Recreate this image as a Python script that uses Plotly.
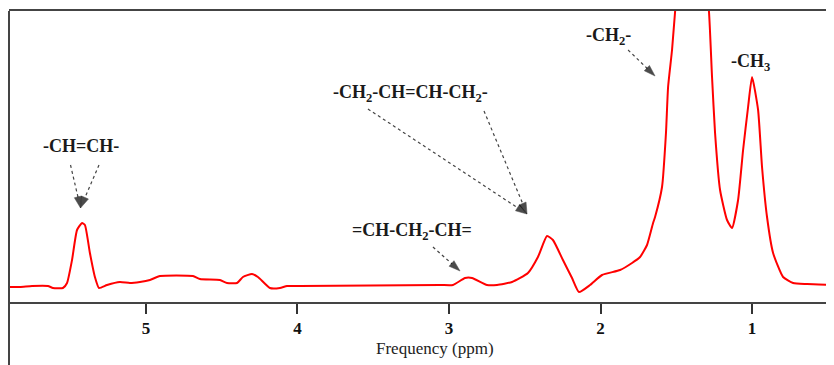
import plotly.graph_objects as go

# Spectrum (chemical shift in ppm, intensity in arbitrary units)
ppm = [5.911, 5.832, 5.752, 5.647, 5.614, 5.548, 5.521, 5.488, 5.455, 5.422,
       5.403, 5.370, 5.337, 5.310, 5.257, 5.172, 5.106, 5.040, 4.974, 4.908,
       4.690, 4.644, 4.512, 4.465, 4.399, 4.360, 4.300, 4.261, 4.182, 4.116,
       4.069, 3.983, 3.059, 2.974, 2.894, 2.848, 2.749, 2.683, 2.584, 2.479,
       2.413, 2.353, 2.314, 2.248, 2.188, 2.142, 2.069, 1.990, 1.871, 1.792,
       1.739, 1.693, 1.653, 1.640, 1.594, 1.568, 1.554, 1.528, 1.508, 1.462,
       1.396, 1.330, 1.284, 1.264, 1.244, 1.211, 1.165, 1.132, 1.092, 1.059,
       1.026, 1.000, 0.960, 0.934, 0.901, 0.861, 0.795, 0.729, 0.637, 0.459]
intensity = [15, 15, 16, 16, 14, 14, 19, 42, 72, 79,
             77, 49, 25, 14, 17, 20, 19, 20, 22, 26,
             26, 23, 22, 19, 19, 25, 28, 25, 14, 14,
             16, 16, 17, 17, 24, 24, 17, 17, 20, 29,
             45, 66, 62, 42, 24, 10, 17, 27, 32, 39,
             45, 57, 79, 85, 115, 169, 215, 252, 290, 362,
             402, 362, 290, 225, 169, 112, 82, 74, 102, 152,
             195, 225, 192, 135, 85, 49, 25, 19, 18, 17]

tick_vals = [5, 4, 3, 2, 1]
tick_text = ["5", "4", "3", "2", "1"]
x_range = [5.904, 0.459]
y_range = [0, 291]

# Peak labels: text, x (ppm), y (intensity)
label_text = ["-CH=CH-",
              "-CH<sub>2</sub>-CH=CH-CH<sub>2</sub>-",
              "=CH-CH<sub>2</sub>-CH=",
              "-CH<sub>2</sub>-",
              "-CH<sub>3</sub>"]
label_x = [5.429, 3.257, 3.244, 1.950, 1.007]
label_y = [156, 209, 71, 266, 240]

# Arrows: start (x0, y0) -> head (x1, y1)
arrow_x0 = [5.498, 5.310, 3.535, 2.769, 3.106, 1.818]
arrow_y0 = [137, 137, 193, 191, 55, 252]
arrow_x1 = [5.432, 5.432, 2.485, 2.485, 2.927, 1.640]
arrow_y1 = [94, 94, 88, 88, 31, 226]

serif = "Liberation Serif, Times New Roman, serif"

fig = go.Figure()
fig.add_trace(go.Scatter(x=ppm, y=intensity, mode="lines",
                         line=dict(color="#ff0000", width=2, shape="spline", smoothing=0.5),
                         hoverinfo="skip", showlegend=False))

for x0, y0, x1, y1 in zip(arrow_x0, arrow_y0, arrow_x1, arrow_y1):
    fig.add_trace(go.Scatter(
        x=[x0, x1], y=[y0, y1], mode="lines+markers",
        line=dict(color="#444444", width=1.2, dash="dot"),
        marker=dict(symbol="arrow", size=[0, 12], angleref="previous",
                    color="#000000", line=dict(width=0.5, color="#000000")),
        hoverinfo="skip", showlegend=False))

annotations = []
for t, x, y in zip(label_text, label_x, label_y):
    annotations.append(dict(x=x, y=y, xref="x", yref="y", text="<b>" + t + "</b>",
                            showarrow=False, font=dict(family=serif, size=18, color="#1a1a1a"),
                            xanchor="center", yanchor="middle"))

# axis title
annotations.append(dict(x=0.5158, y=-0.1615, xref="paper", yref="paper",
                        text="Frequency (ppm)", showarrow=False,
                        font=dict(family=serif, size=17, color="#222222"),
                        xanchor="center", yanchor="middle"))

# left frame line running down to the bottom of the picture
shapes = [dict(type="line", xref="paper", yref="paper", x0=0, x1=0, y0=1.0, y1=-63 / 291,
               line=dict(color="#444444", width=2))]

# The page adds an 8px body margin, so the figure is sized to end at the window edge.
fig.update_layout(
    width=826, height=357,
    margin=dict(l=1, r=0, t=3, b=63),
    paper_bgcolor="white", plot_bgcolor="white",
    shapes=shapes, annotations=annotations,
    xaxis=dict(range=x_range, tickvals=tick_vals, ticktext=tick_text,
               showgrid=False, zeroline=False, showline=True, mirror=True,
               linecolor="#444444", linewidth=2, ticks="outside", ticklen=10,
               tickwidth=2, tickcolor="#333333",
               tickfont=dict(family=serif, size=17, color="#111111", weight="bold")),
    yaxis=dict(range=y_range, showgrid=False, zeroline=False, showline=False,
               showticklabels=False, ticks=""),
)

fig.write_html("out.html")
